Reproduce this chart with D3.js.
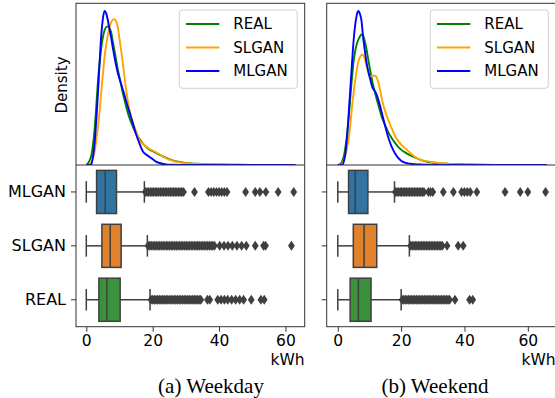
<!DOCTYPE html>
<html>
<head>
<meta charset="utf-8">
<script src="https://cdn.jsdelivr.net/npm/d3@7"></script>
<style>
  html, body { margin: 0; padding: 0; background: #fff; }
  svg { display: block; }
  text { font-family: "DejaVu Sans", sans-serif; fill: #000; }
  .caption { font-family: "Liberation Serif", "Times New Roman", serif; }
</style>
</head>
<body>
<svg id="chart" width="555" height="398"></svg>
<script>
// ---- data ---------------------------------------------------------------
const seriesNames = ["REAL", "SLGAN", "MLGAN"];
const boxCategories = ["MLGAN", "SLGAN", "REAL"];
const xTicks = [0, 20, 40, 60];
const panelTitles = ["(a) Weekday", "(b) Weekend"];

// kernel density estimates of hourly consumption (kWh), relative scale
const weekdayGrid = [0, 0.5, 1, 1.5, 2, 2.5, 3, 3.5, 4, 4.5, 5, 5.5, 6, 6.5, 7, 7.5, 8, 8.5, 9, 9.5, 10, 10.5, 11, 11.5, 12,
  13, 14, 15, 16, 17, 18, 19, 20, 21, 22, 24, 26, 28, 30, 33, 36, 40, 45, 50, 55, 60, 63];
const weekdayReal = [0.003, 0.01, 0.03, 0.06, 0.13, 0.23, 0.38, 0.54, 0.66, 0.76, 0.83, 0.875, 0.895, 0.9, 0.89, 0.86, 0.8, 0.74, 0.68, 0.62, 0.57, 0.52, 0.468, 0.425, 0.38,
  0.305, 0.25, 0.205, 0.17, 0.141, 0.118, 0.1, 0.09, 0.078, 0.068, 0.048, 0.03, 0.02, 0.013, 0.008, 0.005, 0.003, 0.002, 0.001, 0.001, 0.001, 0.001];
const weekdaySlgan = [0, 0, 0.002, 0.015, 0.045, 0.085, 0.16, 0.245, 0.35, 0.47, 0.59, 0.7, 0.78, 0.845, 0.895, 0.928, 0.943, 0.946, 0.932, 0.895, 0.82, 0.745, 0.663, 0.575, 0.489,
  0.359, 0.28, 0.22, 0.163, 0.138, 0.12, 0.105, 0.094, 0.082, 0.07, 0.045, 0.027, 0.017, 0.011, 0.007, 0.005, 0.003, 0.002, 0.001, 0.001, 0.001, 0.001];
const weekdayMlgan = [0, 0, 0, 0.005, 0.05, 0.14, 0.29, 0.46, 0.66, 0.84, 0.95, 1.0, 0.985, 0.94, 0.88, 0.825, 0.76, 0.7, 0.645, 0.598, 0.56, 0.525, 0.489, 0.455, 0.415,
  0.345, 0.272, 0.2, 0.14, 0.09, 0.068, 0.054, 0.038, 0.022, 0.013, 0.004, 0.002, 0.001, 0.001, 0.001, 0.001, 0.001, 0.001, 0.001, 0.001, 0.001, 0.001];

const weekendGrid = [0, 0.5, 1, 1.5, 2, 2.5, 3, 3.5, 4, 4.5, 5, 5.5, 6, 6.5, 7, 7.5, 8, 8.5, 9, 9.5, 10, 10.5, 11, 11.5, 12,
  13, 14, 15, 16, 17, 18, 19, 20, 21, 22, 24, 26, 28, 30, 33, 36, 40, 45, 50, 55, 60, 66];
const weekendReal = [0, 0.003, 0.01, 0.03, 0.065, 0.13, 0.21, 0.32, 0.45, 0.57, 0.675, 0.74, 0.785, 0.815, 0.835, 0.847, 0.84, 0.805, 0.76, 0.7, 0.64, 0.585, 0.533, 0.49, 0.45,
  0.375, 0.305, 0.255, 0.21, 0.175, 0.145, 0.12, 0.1, 0.085, 0.072, 0.052, 0.035, 0.022, 0.015, 0.01, 0.006, 0.004, 0.002, 0.001, 0.001, 0.001, 0.001];
const weekendSlgan = [0, 0, 0, 0.01, 0.035, 0.07, 0.12, 0.18, 0.27, 0.38, 0.47, 0.55, 0.615, 0.67, 0.7, 0.715, 0.717, 0.69, 0.65, 0.609, 0.58, 0.575, 0.58, 0.58, 0.577,
  0.52, 0.42, 0.345, 0.29, 0.24, 0.19, 0.158, 0.133, 0.113, 0.095, 0.058, 0.035, 0.025, 0.019, 0.011, 0.006, 0.003, 0.002, 0.001, 0.001, 0.001, 0.001];
const weekendMlgan = [0, 0, 0, 0.002, 0.03, 0.09, 0.2, 0.35, 0.51, 0.665, 0.81, 0.91, 0.975, 1.0, 0.98, 0.935, 0.83, 0.75, 0.675, 0.62, 0.576, 0.535, 0.5, 0.485, 0.47,
  0.41, 0.33, 0.25, 0.175, 0.12, 0.078, 0.048, 0.028, 0.017, 0.011, 0.006, 0.003, 0.002, 0.001, 0.001, 0.001, 0.001, 0.001, 0.001, 0.001, 0.001, 0.001];

// box statistics: [lower whisker, Q1, median, Q3, upper whisker] in kWh
const weekdayBoxMlgan = [0, 3.1, 5.7, 9.1, 17.5];
const weekdayBoxSlgan = [0, 4.7, 7.2, 10.5, 18.4];
const weekdayBoxReal = [0, 3.8, 6.2, 10.2, 19.2];
const weekendBoxMlgan = [0, 3.4, 5.5, 9.5, 17.9];
const weekendBoxSlgan = [0, 4.9, 8.3, 12.3, 22.6];
const weekendBoxReal = [0, 3.9, 6.5, 10.5, 20.0];

// outlying hourly values (kWh)
const weekdayOutMlgan = [17.8, 18.3, 18.8, 19.3, 19.8, 20.3, 20.8, 21.3, 21.8, 22.3, 22.8, 23.3, 23.8, 24.3, 24.8, 25.3, 25.8, 26.3, 26.8, 27.3, 27.8, 28.3, 28.8, 29.3,
  32.6, 36.8, 37.6, 38.4, 39.2, 40.0, 40.8, 41.6, 42.4, 48.0, 50.9, 52.3, 54.1, 57.8, 62.5];
const weekdayOutSlgan = [18.6, 19.1, 19.6, 20.1, 20.6, 21.1, 21.6, 22.1, 22.6, 23.1, 23.6, 24.1, 24.6, 25.1, 25.6, 26.1, 26.6, 27.1, 27.6, 28.1, 28.6, 29.1, 29.6, 30.1,
  30.6, 31.1, 31.6, 32.1, 32.6, 33.1, 33.6, 34.1, 34.6, 35.1, 35.6, 36.1, 36.6, 37.1, 37.6, 38.1, 38.6,
  40.2, 41.5, 42.7, 44.0, 45.4, 46.8, 48.2, 50.9, 53.4, 54.0, 61.8];
const weekdayOutReal = [19.5, 20.0, 20.5, 21.0, 21.5, 22.0, 22.5, 23.0, 23.5, 24.0, 24.5, 25.0, 25.5, 26.0, 26.5, 27.0, 27.5, 28.0, 28.5, 29.0, 29.5, 30.0, 30.5, 31.0,
  31.5, 32.0, 32.5, 33.0, 33.5, 34.0, 34.5, 36.5, 37.2, 39.6, 40.6, 41.6, 42.6, 43.8, 45.0, 46.2, 47.4, 49.7, 52.6, 53.6];
const weekendOutMlgan = [18.2, 18.7, 19.2, 19.7, 20.2, 20.7, 21.2, 21.7, 22.2, 22.7, 23.2, 23.7, 24.2, 24.7, 25.2, 25.7, 26.2, 26.7, 27.2,
  28.6, 29.3, 30.0, 33.3, 36.5, 39.1, 40.0, 40.9, 41.8, 43.9, 52.8, 57.6, 60.0, 65.6];
const weekendOutSlgan = [23.0, 23.5, 24.0, 24.5, 25.0, 25.5, 26.0, 26.5, 27.0, 27.5, 28.0, 28.5, 29.0, 29.5, 30.0, 30.5, 31.0, 31.5, 32.0, 32.5, 33.0,
  34.5, 38.0, 39.6];
const weekendOutReal = [20.3, 20.8, 21.3, 21.8, 22.3, 22.8, 23.3, 23.8, 24.3, 24.8, 25.3, 25.8, 26.3, 26.8, 27.3, 27.8, 28.3, 28.8, 29.3, 29.8, 30.3, 30.8, 31.3,
  31.8, 32.3, 32.8, 33.3, 33.8, 34.3, 34.8, 35.3, 37.0, 41.6, 42.6];

// ---- styling ------------------------------------------------------------
const lineColors = { REAL: "green", SLGAN: "orange", MLGAN: "blue" };
const boxColors = { MLGAN: "#3274a1", SLGAN: "#e1812c", REAL: "#3a923a" };
const ink = "#3f3f3f";
const spine = "#333";

const panels = [
  { left: 76, right: 304.7, domain: [-3.1, 65.8], grid: weekdayGrid,
    kde: { REAL: weekdayReal, SLGAN: weekdaySlgan, MLGAN: weekdayMlgan },
    box: { MLGAN: weekdayBoxMlgan, SLGAN: weekdayBoxSlgan, REAL: weekdayBoxReal },
    out: { MLGAN: weekdayOutMlgan, SLGAN: weekdayOutSlgan, REAL: weekdayOutReal },
    yLabels: true, title: panelTitles[0], titleX: 211 },
  { left: 326.7, right: 555.7, domain: [-3.5, 68.8], grid: weekendGrid,
    kde: { REAL: weekendReal, SLGAN: weekendSlgan, MLGAN: weekendMlgan },
    box: { MLGAN: weekendBoxMlgan, SLGAN: weekendBoxSlgan, REAL: weekendBoxReal },
    out: { MLGAN: weekendOutMlgan, SLGAN: weekendOutSlgan, REAL: weekendOutReal },
    yLabels: false, title: panelTitles[1], titleX: 435 }
];

const kdeTop = 3.3, kdeBottom = 165, boxTop = 165, boxBottom = 326.7;

const svg = d3.select("#chart");
svg.append("rect").attr("width", 555).attr("height", 398).attr("fill", "#fff");

panels.forEach((p, i) => {
  const x = d3.scaleLinear().domain(p.domain).range([p.left, p.right]);
  const yKde = d3.scaleLinear().domain([0, 1.05]).range([kdeBottom, kdeTop]);
  const yBox = d3.scaleBand().domain(boxCategories).range([boxTop, boxBottom]).padding(0);
  const bw = yBox.bandwidth();

  const clipId = "clip" + i;
  svg.append("clipPath").attr("id", clipId)
    .append("rect").attr("x", p.left).attr("y", kdeTop)
    .attr("width", p.right - p.left).attr("height", kdeBottom - kdeTop);

  // density curves
  const line = d3.line()
    .x((d, k) => x(p.grid[k]))
    .y(d => yKde(d))
    .curve(d3.curveMonotoneX);
  const gk = svg.append("g").attr("clip-path", `url(#${clipId})`);
  seriesNames.forEach(s => {
    gk.append("path").attr("d", line(p.kde[s]))
      .attr("fill", "none").attr("stroke", lineColors[s])
      .attr("stroke-width", 1.9).attr("stroke-linejoin", "round");
  });

  // box plots
  const gb = svg.append("g");
  boxCategories.forEach(c => {
    const [lo, q1, med, q3, hi] = p.box[c];
    const cy = yBox(c) + bw / 2;
    const h = bw * 0.8, cap = bw * 0.4;
    gb.append("line").attr("x1", x(lo)).attr("x2", x(q1)).attr("y1", cy).attr("y2", cy)
      .attr("stroke", ink).attr("stroke-width", 1.5);
    gb.append("line").attr("x1", x(q3)).attr("x2", x(hi)).attr("y1", cy).attr("y2", cy)
      .attr("stroke", ink).attr("stroke-width", 1.5);
    [lo, hi].forEach(v => {
      gb.append("line").attr("x1", x(v)).attr("x2", x(v))
        .attr("y1", cy - cap / 2).attr("y2", cy + cap / 2)
        .attr("stroke", ink).attr("stroke-width", 1.5);
    });
    gb.append("rect").attr("x", x(q1)).attr("y", cy - h / 2)
      .attr("width", x(q3) - x(q1)).attr("height", h)
      .attr("fill", boxColors[c]).attr("stroke", ink).attr("stroke-width", 1.5);
    gb.append("line").attr("x1", x(med)).attr("x2", x(med))
      .attr("y1", cy - h / 2).attr("y2", cy + h / 2)
      .attr("stroke", ink).attr("stroke-width", 1.5);
    gb.selectAll(null).data(p.out[c]).enter().append("path")
      .attr("d", d => {
        const px = x(d);
        return `M${px},${cy - 5}L${px + 3.4},${cy}L${px},${cy + 5}L${px - 3.4},${cy}Z`;
      })
      .attr("fill", ink);
  });

  // spines
  const sp = svg.append("g").attr("fill", "none").attr("stroke", spine).attr("stroke-width", 1);
  sp.append("rect").attr("x", p.left).attr("y", kdeTop)
    .attr("width", p.right - p.left).attr("height", boxBottom - kdeTop);
  sp.append("line").attr("x1", p.left).attr("x2", p.right).attr("y1", kdeBottom).attr("y2", kdeBottom);

  // x axis
  const xAxis = d3.axisBottom(x).tickValues(xTicks).tickSize(5).tickPadding(3);
  const gx = svg.append("g").attr("transform", `translate(0,${boxBottom})`).call(xAxis);
  gx.select(".domain").remove();
  gx.selectAll(".tick line").attr("stroke", spine);
  gx.selectAll(".tick text").attr("font-size", 15.5).attr("font-family", "DejaVu Sans").attr("fill", "#000");
  svg.append("text").attr("x", p.right).attr("y", 365).attr("text-anchor", "end")
    .attr("font-size", 15.5).text("kWh");

  // y axis (categories)
  const yAxis = d3.axisLeft(yBox).tickSize(5).tickPadding(5);
  const gy = svg.append("g").attr("transform", `translate(${p.left},0)`).call(yAxis);
  gy.select(".domain").remove();
  gy.selectAll(".tick line").attr("stroke", spine);
  gy.selectAll(".tick text").attr("font-size", 16).attr("font-family", "DejaVu Sans").attr("fill", "#000");
  if (!p.yLabels) gy.selectAll(".tick text").remove();

  // legend
  const lgRight = p.right - 7.4;
  const lg = svg.append("g").attr("transform", `translate(${lgRight - 118},10)`);
  lg.append("rect").attr("width", 118).attr("height", 78.3).attr("rx", 3)
    .attr("fill", "#fff").attr("fill-opacity", 0.8).attr("stroke", "#d0d0d0").attr("stroke-width", 1);
  seriesNames.forEach((s, k) => {
    const ly = 14 + k * 23.5;
    lg.append("line").attr("x1", 6.7).attr("x2", 40).attr("y1", ly).attr("y2", ly)
      .attr("stroke", lineColors[s]).attr("stroke-width", 1.9);
    lg.append("text").attr("x", 54).attr("y", ly).attr("dy", "0.36em")
      .attr("font-size", 15).text(s);
  });

  // caption
  svg.append("text").attr("class", "caption").attr("x", p.titleX).attr("y", 393)
    .attr("text-anchor", "middle").attr("font-size", 21).text(p.title);
});

// density label
svg.append("text").attr("transform", "translate(67,85) rotate(-90)")
  .attr("text-anchor", "middle").attr("font-size", 15).text("Density");
</script>
</body>
</html>
